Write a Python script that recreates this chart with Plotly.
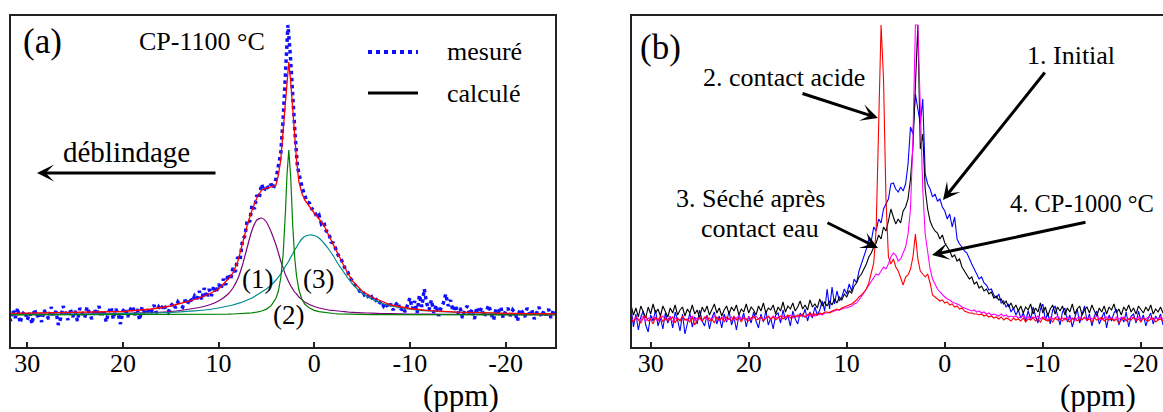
import numpy as np
import plotly.graph_objects as go

W, H = 1163, 412
FONT = "Liberation Serif"

# ---------------- Panel (a): CP-1100 °C ----------------
# measured spectrum, three stretches of the ppm axis
a_span = [(32.0, 12.25), (12.0, -2.0), (-2.25, -25.5)]
a_meas_1 = [
    0.03, -0.06, 0.05, -0.03, 0.07, -0.08, 0.01, 0.04, -0.05, 0.02,
    -0.09, 0.06, -0.02, 0.03, -0.07, 0.05, 0.00, -0.04, 0.08, -0.01,
    0.04, -0.10, -0.03, 0.09, 0.02, -0.05, 0.06, -0.02, 0.04, -0.06,
    0.07, 0.01, -0.03, 0.08, 0.03, -0.04, 0.06, 0.00, 0.09, -0.02,
    0.05, -0.07, 0.03, 0.08, -0.04, 0.06, 0.01, -0.09, 0.04, 0.07,
    -0.02, 0.05, 0.09, 0.00, 0.06, -0.05, 0.08, 0.03, 0.01, 0.07,
    0.04, 0.10, 0.02, 0.08, 0.05, 0.11, 0.06, 0.03, 0.09, 0.12,
    0.07, 0.13, 0.10, 0.08, 0.15, 0.11, 0.17, 0.13, 0.19, 0.16,
]
a_meas_2 = [
    0.24, 0.15, 0.27, 0.17, 0.26, 0.19, 0.29, 0.22, 0.31, 0.26,
    0.36, 0.30, 0.41, 0.35, 0.47, 0.43, 0.58, 0.55, 0.75, 0.79,
    0.95, 0.93, 1.10, 1.06, 1.20, 1.17, 1.31, 1.24, 1.30, 1.26,
    1.31, 1.27, 1.36, 1.50, 1.62, 1.96, 2.40, 2.90, 2.60, 2.15,
    1.80, 1.48, 1.36, 1.27, 1.20, 1.13, 1.12, 1.06, 1.05, 0.98,
    1.00, 0.91, 0.93, 0.84, 0.83, 0.73, 0.72,
]
a_meas_3 = [
    0.66, 0.60, 0.57, 0.51, 0.46, 0.43, 0.37, 0.34, 0.30, 0.28,
    0.24, 0.25, 0.20, 0.21, 0.16, 0.18, 0.13, 0.15, 0.11, 0.14,
    0.09, 0.12, 0.07, 0.11, 0.05, 0.10, 0.13, 0.04, 0.08, 0.03,
    0.11, 0.17, 0.06, 0.14, 0.02, 0.20, 0.08, 0.26, 0.12, 0.05,
    0.15, 0.02, 0.10, -0.01, 0.07, 0.12, 0.21, 0.09, 0.15, 0.04,
    0.10, 0.01, 0.07, -0.03, 0.05, 0.09, 0.00, 0.06, -0.04, 0.08,
    0.02, 0.07, -0.02, 0.05, 0.10, 0.01, -0.05, 0.06, 0.03, 0.08,
    -0.03, 0.04, 0.07, -0.01, 0.05, 0.02, -0.06, 0.06, 0.03, -0.02,
    0.07, 0.01, 0.05, -0.04, 0.03, 0.08, -0.02, 0.04, 0.00, 0.06,
    -0.03, 0.05, 0.02, 0.04,
]

fit_x = [32, 28, 24, 20, 17, 15, 13, 12, 11, 10,
         9, 8.5, 8, 7.5, 7, 6.5, 6, 5.5, 5, 4.5,
         4, 3.75, 3.5, 3.25, 3.0, 2.85, 2.66, 2.45, 2.25, 2.05,
         1.85, 1.6, 1.3, 1, 0.5, 0, -0.5, -1, -1.5, -2,
         -2.5, -3, -3.5, -4, -5, -6, -7, -8, -10, -12,
         -15, -18, -22, -25.5]
fit_total = [0.015, 0.02, 0.025, 0.035, 0.06, 0.09, 0.14, 0.17, 0.21, 0.26,
             0.36, 0.42, 0.53, 0.72, 0.90, 1.05, 1.17, 1.25, 1.27, 1.28,
             1.30, 1.40, 1.55, 1.85, 2.15, 2.38, 2.53, 2.32, 2.05, 1.78,
             1.55, 1.33, 1.22, 1.15, 1.08, 1.02, 0.96, 0.90, 0.80, 0.70,
             0.60, 0.51, 0.42, 0.34, 0.24, 0.18, 0.14, 0.10, 0.065, 0.043,
             0.028, 0.02, 0.014, 0.012]
fit_comp1 = [0.004, 0.006, 0.009, 0.016, 0.025, 0.035, 0.06, 0.075, 0.10, 0.14,
             0.21, 0.27, 0.36, 0.50, 0.68, 0.85, 0.95, 0.97, 0.93, 0.83,
             0.70, 0.62, 0.54, 0.47, 0.40, 0.37, 0.33, 0.29, 0.26, 0.23,
             0.21, 0.18, 0.155, 0.13, 0.105, 0.085, 0.07, 0.06, 0.05, 0.045,
             0.04, 0.035, 0.03, 0.027, 0.022, 0.018, 0.015, 0.013, 0.01, 0.008,
             0.006, 0.005, 0.004, 0.003]
fit_comp2 = [0.001, 0.001, 0.001, 0.002, 0.002, 0.003, 0.003, 0.004, 0.005, 0.006,
             0.008, 0.01, 0.012, 0.014, 0.017, 0.022, 0.029, 0.04, 0.059, 0.093,
             0.167, 0.24, 0.37, 0.61, 1.05, 1.40, 1.65, 1.36, 0.90, 0.58,
             0.39, 0.25, 0.16, 0.11, 0.069, 0.046, 0.033, 0.025, 0.019, 0.015,
             0.012, 0.010, 0.009, 0.0075, 0.0057, 0.0045, 0.0037, 0.003, 0.002, 0.0015,
             0.001, 0.001, 0.0007, 0.0005]
fit_comp3 = [0.006, 0.008, 0.01, 0.014, 0.02, 0.026, 0.038, 0.045, 0.055, 0.07,
             0.09, 0.10, 0.115, 0.13, 0.15, 0.17, 0.20, 0.23, 0.26, 0.30,
             0.35, 0.38, 0.41, 0.45, 0.49, 0.51, 0.54, 0.58, 0.61, 0.65,
             0.68, 0.72, 0.76, 0.785, 0.80, 0.795, 0.77, 0.72, 0.66, 0.59,
             0.51, 0.44, 0.37, 0.31, 0.22, 0.16, 0.12, 0.09, 0.058, 0.04,
             0.026, 0.018, 0.012, 0.009]

# ---------------- Panel (b): four spectra ----------------
b_span = [(32.0, 12.25), (12.0, -2.0), (-2.25, -23.0)]
b_initial = [  # 1. Initial (blue)
    [0.12, -0.08, 0.05, -0.11, 0.02, 0.08, -0.06, -0.13, 0.04, -0.02,
     0.09, -0.07, 0.01, -0.10, 0.06, -0.04, 0.03, -0.09, 0.07, -0.01,
     -0.12, 0.05, -0.15, -0.03, 0.06, -0.08, 0.02, -0.05, 0.09, -0.02,
     -0.07, 0.04, -0.10, 0.01, 0.07, -0.05, 0.03, -0.09, 0.05, -0.03,
     0.08, -0.06, 0.02, -0.11, 0.04, -0.01, 0.06, -0.08, 0.03, -0.04,
     0.07, -0.02, -0.09, 0.05, -0.03, 0.08, -0.06, 0.01, -0.10, 0.04,
     0.06, -0.04, 0.09, -0.01, 0.03, -0.07, 0.08, 0.00, -0.05, 0.06,
     0.02, 0.10, -0.02, 0.07, 0.01, 0.12, 0.04, 0.09, 0.18, 0.08],
    [0.30, 0.10, 0.32, 0.15, 0.28, 0.18, 0.22, 0.30, 0.25, 0.35,
     0.28, 0.40, 0.36, 0.48, 0.55, 0.62, 0.70, 0.80, 0.78, 0.92,
     0.88, 1.00, 0.96, 1.10, 1.15, 1.20, 1.35, 1.36, 1.30, 1.27,
     1.32, 1.28, 1.35, 1.55, 1.92, 1.85, 2.25, 2.10, 1.95, 2.20,
     1.45, 1.35, 1.30, 1.22, 1.25, 1.18, 1.20, 1.12, 1.08, 1.00,
     1.05, 0.92, 1.02, 0.80, 0.75, 0.72, 0.68],
    [0.66, 0.60, 0.55, 0.50, 0.45, 0.40, 0.42, 0.36, 0.34, 0.29,
     0.30, 0.24, 0.21, 0.25, 0.16, 0.18, 0.12, 0.15, 0.07, 0.11,
     0.04, 0.09, 0.01, 0.06, -0.02, 0.08, 0.00, 0.12, 0.03, -0.04,
     0.10, 0.15, -0.01, 0.06, -0.05, 0.09, 0.13, 0.02, -0.06, 0.07,
     0.11, -0.03, 0.04, -0.08, 0.02, 0.10, -0.04, 0.06, 0.13, -0.02,
     0.05, -0.07, 0.03, 0.08, -0.05, 0.01, 0.07, -0.09, 0.04, -0.02,
     0.06, 0.10, -0.06, 0.02, -0.03, 0.07, -0.08, 0.03, 0.05, -0.04,
     0.08, -0.02, 0.04, -0.07, 0.01, 0.06, -0.05, 0.03, -0.01, 0.05,
     -0.06, 0.02, 0.07, -0.03],
]
b_acid = [  # 2. contact acide (red)
    [0.00, -0.03, 0.02, -0.01, -0.04, 0.01, 0.03, -0.02, 0.00, -0.05,
     0.02, -0.01, 0.03, -0.03, 0.01, -0.02, 0.00, 0.02, -0.04, 0.01,
     -0.02, 0.03, -0.01, 0.00, -0.03, 0.02, -0.06, -0.01, 0.02, -0.02,
     0.01, 0.03, -0.02, 0.00, -0.04, 0.02, -0.01, 0.01, -0.03, 0.02,
     0.00, -0.02, 0.03, -0.01, 0.01, -0.03, 0.02, 0.00, -0.02, 0.01,
     0.03, -0.01, 0.00, 0.02, -0.02, 0.01, 0.03, 0.00, 0.02, -0.01,
     0.01, 0.03, 0.00, 0.02, 0.04, 0.01, 0.03, 0.02, 0.04, 0.03,
     0.05, 0.02, 0.04, 0.06, 0.03, 0.05, 0.04, 0.06, 0.05, 0.07],
    [0.07, 0.06, 0.08, 0.09, 0.10, 0.09, 0.11, 0.12, 0.13, 0.14,
     0.15, 0.17, 0.19, 0.22, 0.24, 0.27, 0.30, 0.36, 0.45, 0.56,
     0.90, 2.10, 2.94, 2.40, 1.20, 0.62, 0.55, 0.60, 0.52, 0.48,
     0.40, 0.34, 0.42, 0.44, 0.50, 0.62, 0.85, 0.60, 0.48, 0.45,
     0.42, 0.45, 0.36, 0.24, 0.22, 0.20, 0.18, 0.19, 0.16, 0.17,
     0.14, 0.15, 0.12, 0.13, 0.10, 0.11, 0.08],
    [0.07, 0.06, 0.06, 0.05, 0.05, 0.04, 0.05, 0.03, 0.04, 0.02,
     0.03, 0.01, 0.02, 0.00, 0.02, -0.01, 0.01, 0.00, -0.02, 0.01,
     -0.01, 0.00, -0.02, 0.01, -0.03, 0.00, -0.01, 0.01, -0.02, 0.00,
     -0.03, 0.01, -0.01, -0.02, 0.00, -0.03, 0.01, -0.01, 0.00, -0.02,
     0.01, -0.01, -0.03, 0.00, 0.01, -0.02, 0.00, -0.01, 0.02, -0.01,
     0.00, -0.03, 0.01, -0.01, 0.00, 0.02, -0.02, 0.00, -0.01, 0.01,
     -0.02, 0.00, -0.04, -0.01, 0.01, -0.02, 0.00, -0.01, 0.02, -0.02,
     0.00, -0.03, 0.01, -0.01, -0.02, 0.00, 0.01, -0.03, -0.01, 0.00,
     -0.02, 0.01, -0.01, 0.00],
]
b_dried = [  # 3. Séché après contact eau (black)
    [0.14, 0.04, 0.11, 0.02, 0.13, 0.07, 0.01, 0.12, 0.05, 0.15,
     0.06, 0.10, 0.03, 0.13, 0.08, 0.02, 0.11, 0.06, 0.14, 0.04,
     0.09, 0.12, 0.03, 0.10, 0.06, 0.14, 0.05, 0.09, 0.01, 0.12,
     0.07, 0.13, 0.04, 0.10, 0.15, 0.06, 0.11, 0.03, 0.09, 0.13,
     0.05, 0.12, 0.08, 0.14, 0.04, 0.10, 0.07, 0.15, 0.06, 0.12,
     0.09, 0.04, 0.13, 0.08, 0.16, 0.06, 0.11, 0.09, 0.14, 0.05,
     0.12, 0.08, 0.17, 0.07, 0.13, 0.10, 0.16, 0.08, 0.12, 0.18,
     0.10, 0.14, 0.09, 0.19, 0.12, 0.15, 0.11, 0.20, 0.13, 0.17],
    [0.13, 0.18, 0.14, 0.20, 0.16, 0.22, 0.19, 0.25, 0.22, 0.28,
     0.26, 0.33, 0.36, 0.42, 0.45, 0.50, 0.55, 0.62, 0.66, 0.72,
     0.76, 0.84, 0.80, 0.92, 0.88, 0.98, 1.10, 1.02, 0.95, 1.00,
     0.96, 1.08, 1.12, 1.20, 1.40, 1.72, 2.35, 2.94, 1.70, 1.85,
     1.30, 1.10, 0.98, 0.92, 0.88, 0.86, 0.80, 0.84, 0.76, 0.72,
     0.68, 0.62, 0.64, 0.58, 0.60, 0.52, 0.48],
    [0.45, 0.40, 0.42, 0.35, 0.37, 0.31, 0.33, 0.28, 0.30, 0.25,
     0.27, 0.21, 0.23, 0.19, 0.20, 0.15, 0.18, 0.12, 0.16, 0.10,
     0.14, 0.08, 0.13, 0.06, 0.12, 0.09, 0.15, 0.05, 0.11, 0.07,
     0.16, 0.06, 0.12, 0.03, 0.10, 0.14, 0.05, 0.12, 0.08, 0.13,
     0.04, 0.11, 0.07, 0.15, 0.05, 0.10, 0.13, 0.04, 0.09, 0.12,
     0.06, 0.14, 0.08, 0.03, 0.11, 0.07, 0.13, 0.05, 0.12, 0.09,
     0.15, 0.06, 0.10, 0.04, 0.12, 0.08, 0.14, 0.07, 0.11, 0.05,
     0.13, 0.09, 0.06, 0.12, 0.08, 0.14, 0.05, 0.10, 0.07, 0.12,
     0.06, 0.11, 0.08, 0.10],
]
b_cp1000 = [  # 4. CP-1000 °C (magenta)
    [0.01, -0.02, 0.02, 0.00, -0.01, 0.03, -0.02, 0.01, -0.01, 0.02,
     0.00, -0.02, 0.01, 0.03, -0.01, 0.00, 0.02, -0.03, 0.01, 0.00,
     -0.01, 0.02, 0.00, -0.02, 0.01, 0.03, -0.01, 0.01, 0.00, -0.02,
     0.02, 0.00, 0.01, -0.01, 0.03, 0.00, -0.02, 0.02, 0.01, -0.01,
     0.00, 0.02, -0.01, 0.01, 0.03, 0.00, 0.01, -0.01, 0.02, 0.00,
     0.01, 0.03, 0.00, 0.02, -0.01, 0.01, 0.02, 0.00, 0.03, 0.01,
     0.02, 0.00, 0.03, 0.01, 0.02, 0.04, 0.01, 0.03, 0.02, 0.04,
     0.03, 0.02, 0.04, 0.03, 0.05, 0.03, 0.04, 0.05, 0.04, 0.06],
    [0.06, 0.07, 0.07, 0.08, 0.09, 0.09, 0.10, 0.11, 0.11, 0.12,
     0.13, 0.15, 0.16, 0.19, 0.22, 0.26, 0.30, 0.34, 0.38, 0.42,
     0.45, 0.44, 0.48, 0.52, 0.50, 0.55, 0.62, 0.66, 0.64, 0.58,
     0.60, 0.66, 0.72, 0.85, 1.10, 1.80, 2.94, 2.94, 2.20, 1.30,
     0.85, 0.65, 0.50, 0.40, 0.34, 0.30, 0.27, 0.24, 0.22, 0.20,
     0.19, 0.17, 0.16, 0.15, 0.14, 0.12, 0.11],
    [0.10, 0.09, 0.08, 0.09, 0.07, 0.08, 0.06, 0.07, 0.05, 0.06,
     0.04, 0.05, 0.04, 0.03, 0.05, 0.03, 0.04, 0.02, 0.03, 0.02,
     0.03, 0.01, 0.02, 0.03, 0.01, 0.02, 0.00, 0.02, 0.01, 0.03,
     0.00, 0.02, 0.01, -0.01, 0.02, 0.00, 0.01, 0.03, 0.00, 0.01,
     -0.01, 0.02, 0.00, 0.01, -0.02, 0.01, 0.02, 0.00, 0.01, -0.01,
     0.02, 0.00, 0.01, 0.03, 0.00, -0.01, 0.01, 0.02, 0.00, 0.01,
     -0.01, 0.02, 0.00, 0.01, 0.02, -0.01, 0.00, 0.02, 0.01, 0.00,
     0.02, -0.01, 0.01, 0.00, 0.02, 0.01, -0.01, 0.01, 0.00, 0.02,
     0.00, 0.01, -0.01, 0.01],
]
tick_values = [30, 20, 10, 0, -10, -20]
tick_labels = ["30", "20", "10", "0", "-10", "-20"]


def stitch(spans, parts):
    xs, ys = [], []
    for (start, stop), vals in zip(spans, parts):
        xs.append(np.linspace(start, stop, len(vals)))
        ys.extend(vals)
    return np.concatenate(xs), ys


fig = go.Figure()

# panel (a)
ax_, ay_ = stitch(a_span, [a_meas_1, a_meas_2, a_meas_3])
fig.add_trace(go.Scatter(x=ax_, y=ay_, mode="lines", name="mesuré",
                         line=dict(color="#1010ff", width=3.5, dash="dot"),
                         xaxis="x", yaxis="y"))
fig.add_trace(go.Scatter(x=fit_x, y=fit_comp1, mode="lines", name="(1)",
                         line=dict(color="#800080", width=1.2, shape="spline", smoothing=0.6),
                         xaxis="x", yaxis="y"))
fig.add_trace(go.Scatter(x=fit_x, y=fit_comp3, mode="lines", name="(3)",
                         line=dict(color="#008b8b", width=1.2, shape="spline", smoothing=0.6),
                         xaxis="x", yaxis="y"))
fig.add_trace(go.Scatter(x=fit_x, y=fit_comp2, mode="lines", name="(2)",
                         line=dict(color="#008000", width=1.2),
                         xaxis="x", yaxis="y"))
fig.add_trace(go.Scatter(x=fit_x, y=fit_total, mode="lines", name="calculé",
                         line=dict(color="#ff0000", width=1.3),
                         xaxis="x", yaxis="y"))

# panel (b)
for parts, col in [(b_initial, "#0000ff"), (b_dried, "#000000"),
                   (b_cp1000, "#ff00ff"), (b_acid, "#ff0000")]:
    bx, by = stitch(b_span, parts)
    fig.add_trace(go.Scatter(x=bx, y=by, mode="lines",
                             line=dict(color=col, width=1.1),
                             xaxis="x2", yaxis="y2"))

ydom = [(H - 346.7) / H, (H - 16) / H]
axis_common = dict(showgrid=False, zeroline=False, linecolor="#222", linewidth=1.5,
                   showline=True, ticks="inside", ticklen=5, tickwidth=1.5,
                   tickcolor="#222", tickfont=dict(family=FONT, size=26, color="black"),
                   tickvals=tick_values, ticktext=tick_labels, ticklabelstandoff=-8)
fig.update_layout(
    width=W, height=H, margin=dict(l=0, r=0, t=0, b=0),
    paper_bgcolor="white", plot_bgcolor="white", showlegend=False,
    font=dict(family=FONT, color="black"),
    xaxis=dict(domain=[11 / W, 555.3 / W], range=[31.7, -25.2], mirror=True,
               anchor="y", **axis_common),
    yaxis=dict(domain=ydom, range=[-0.317, 2.99], showgrid=False, zeroline=False,
               showline=True, mirror=True, linecolor="#222", linewidth=1.5,
               showticklabels=False, ticks="", anchor="x"),
    xaxis2=dict(domain=[631.7 / W, 1.0], range=[31.93, -22.25], mirror=True,
                anchor="y2", **axis_common),
    yaxis2=dict(domain=ydom, range=[-0.277, 3.03], showgrid=False, zeroline=False,
                showline=True, mirror=False, linecolor="#222", linewidth=1.5,
                showticklabels=False, ticks="", anchor="x2"),
)


def P(px, py):
    return px / W, 1 - py / H


def text(px, py, s, size, xanchor="center"):
    x, y = P(px, py)
    fig.add_annotation(x=x, y=y, xref="paper", yref="paper", text=s, showarrow=False,
                       xanchor=xanchor, yanchor="middle",
                       font=dict(family=FONT, size=size, color="black"))


def arrow(tail, tip):
    x, y = P(*tip)
    fig.add_annotation(x=x, y=y, xref="paper", yref="paper", text="", showarrow=True,
                       ax=tail[0] - tip[0], ay=tail[1] - tip[1],
                       arrowhead=3, arrowsize=0.95, arrowwidth=3, arrowcolor="black",
                       standoff=0, startstandoff=0)


# panel (a) texts
text(43, 42, "(a)", 35)
text(202, 42, "CP-1100 °C", 26)
text(445, 52, "mesuré", 26, "left")
text(445, 93, "calculé", 26, "left")
text(126, 152, "déblindage", 29)
text(257, 279, "(1)", 27)
text(318, 279, "(3)", 27)
text(288, 315, "(2)", 27)
text(461, 395, "(ppm)", 31)
arrow((217, 173), (37, 173))

# legend samples for panel (a)
for y0, dash, col, w in [(52, "dot", "#1010ff", 4), (93, "solid", "black", 3)]:
    xa, ya = P(368, y0)
    xb, _ = P(418, y0)
    fig.add_shape(type="line", xref="paper", yref="paper", x0=xa, x1=xb, y0=ya, y1=ya,
                  line=dict(color=col, width=w, dash=dash))

# panel (b) texts
text(660, 48, "(b)", 35)
text(784, 77, "2. contact acide", 26)
text(750, 198, "3. Séché après", 26)
text(760, 228, "contact eau", 26)
text(1071, 55, "1. Initial", 26)
text(1008, 203, "4. CP-1000 °C", 24.5, "left")
text(1098, 395, "(ppm)", 31)
arrow((801, 93), (878, 118))
arrow((826, 222), (878, 248))
arrow((1046, 71), (943, 200))
arrow((1087, 222), (932, 255))

fig.write_html("out.html", config={"displayModeBar": False},
               post_script="document.body.style.margin='0';document.body.style.padding='0';")
